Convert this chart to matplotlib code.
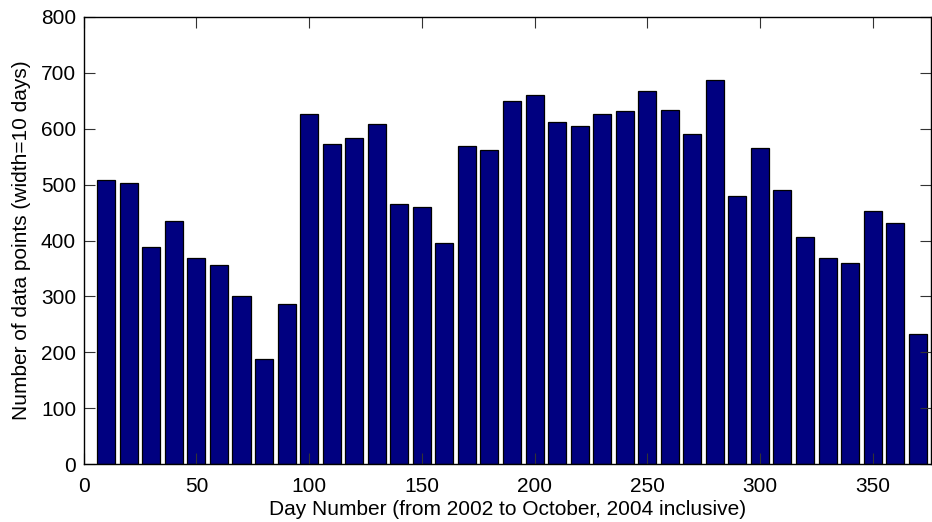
import matplotlib
matplotlib.use("Agg")
import matplotlib.pyplot as plt

plt.rcParams['font.family'] = ['Liberation Sans', 'DejaVu Sans']

day_centers = [10, 20, 30, 40, 50, 60, 70, 80, 90, 100, 110, 120, 130, 140, 150, 160,
               170, 180, 190, 200, 210, 220, 230, 240, 250, 260, 270, 280, 290, 300,
               310, 320, 330, 340, 350, 360, 370]
counts = [509, 502, 388, 435, 368, 356, 301, 189, 287, 626, 572, 583, 608, 466, 459, 396,
          569, 562, 649, 660, 612, 605, 626, 631, 667, 633, 590, 687, 480, 565,
          490, 407, 368, 359, 453, 432, 233]
xticks = [0, 50, 100, 150, 200, 250, 300, 350]
yticks = [0, 100, 200, 300, 400, 500, 600, 700, 800]

fig = plt.figure(figsize=(9.32, 5.22), dpi=100)
ax = fig.add_axes([0.0898, 0.1105, 0.9094, 0.8575])

ax.bar(day_centers, counts, width=8, color='#000080', edgecolor='black', linewidth=0.9)

ax.set_xlim(0, 376)
ax.set_ylim(0, 800)
ax.set_xticks(xticks)
ax.set_yticks(yticks)
ax.tick_params(direction='in', length=8, width=0.8, top=True, right=True,
               labelsize=15, color='#333333')
ax.tick_params(axis='x', pad=9)
ax.tick_params(axis='y', pad=5.5)
for s in ax.spines.values():
    s.set_linewidth(1.0)
    s.set_color('black')

ax.set_xlabel('Day Number (from 2002 to October, 2004 inclusive)', fontsize=15, labelpad=3)
ax.set_ylabel('Number of data points (width=10 days)', fontsize=15, labelpad=7.5)

fig.savefig('out.png', dpi=100)
